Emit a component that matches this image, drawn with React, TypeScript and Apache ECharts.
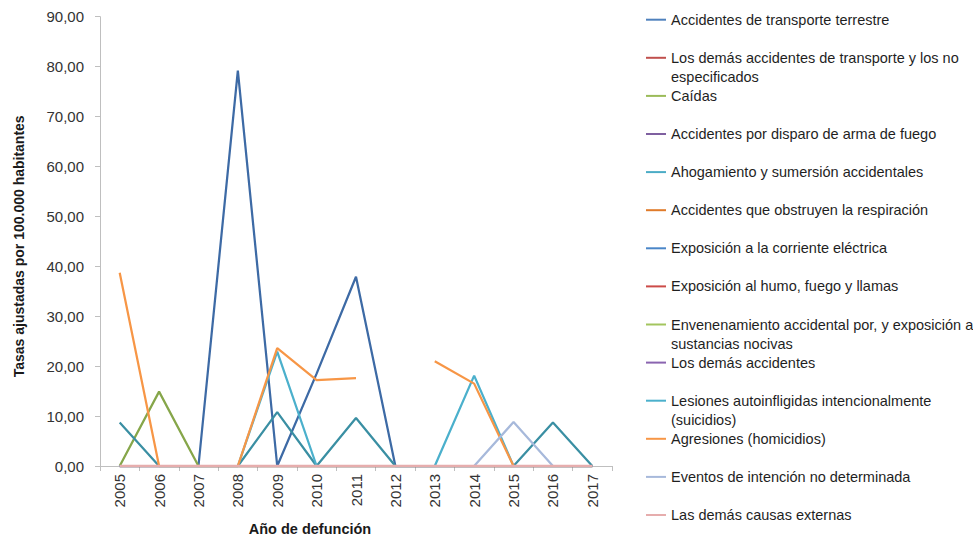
import React, { useEffect, useRef } from "react";
import * as echarts from "echarts";

const years = ["2005", "2006", "2007", "2008", "2009", "2010", "2011", "2012", "2013", "2014", "2015", "2016", "2017"];

const seriesNames = [
  "Accidentes de transporte terrestre",
  "Los demás accidentes de transporte y los no especificados",
  "Caídas",
  "Accidentes por disparo de arma de fuego",
  "Ahogamiento y sumersión accidentales",
  "Accidentes que obstruyen la respiración",
  "Exposición a la corriente eléctrica",
  "Exposición al humo, fuego y llamas",
  "Envenenamiento accidental por, y exposición a sustancias nocivas",
  "Los demás accidentes",
  "Lesiones autoinfligidas intencionalmente (suicidios)",
  "Agresiones (homicidios)",
  "Eventos de intención no determinada",
  "Las demás causas externas",
];

// legend label lines (wrapped as in the reference)
const legendLabels = [
  "Accidentes de transporte terrestre",
  "Los demás accidentes de transporte y los no\nespecificados",
  "Caídas",
  "Accidentes por disparo de arma de fuego",
  "Ahogamiento y sumersión accidentales",
  "Accidentes que obstruyen la respiración",
  "Exposición a la corriente eléctrica",
  "Exposición al humo, fuego y llamas",
  "Envenenamiento accidental por, y exposición a\nsustancias nocivas",
  "Los demás accidentes",
  "Lesiones autoinfligidas intencionalmente\n(suicidios)",
  "Agresiones (homicidios)",
  "Eventos de intención no determinada",
  "Las demás causas externas",
];

const transporteTerrestre = [0, 0, 0, 79.2, 0, 18.5, 37.9, 0, 0, 0, 0, 0, 0];
const demasTransporte = [0, 0, 0, 0, 0, 0, 0, 0, 0, 0, 0, 0, 0];
const caidas = [0, 14.9, 0, 0, 0, 0, 0, 0, 0, 0, 0, 0, 0];
const armaFuego = [0, 0, 0, 0, 0, 0, 0, 0, 0, 0, 0, 0, 0];
const ahogamiento = [8.7, 0, 0, 0, 10.8, 0, 9.6, 0, 0, 0, 0, 8.7, 0];
const obstruyen = [0, 0, 0, 0, 0, 0, 0, 0, 0, 0, 0, 0, 0];
const corriente = [0, 0, 0, 0, 0, 0, 0, 0, 0, 0, 0, 0, 0];
const humo = [0, 0, 0, 0, 0, 0, 0, 0, 0, 0, 0, 0, 0];
const envenenamiento = [0, 0, 0, 0, 0, 0, 0, 0, 0, 0, 0, 0, 0];
const demasAccidentes = [0, 0, 0, 0, 0, 0, 0, 0, 0, 0, 0, 0, 0];
const suicidios = [0, 0, 0, 0, 22.9, 0, 0, 0, 0, 18.1, 0, 0, 0];
const homicidios = [38.7, 0, 0, 0, 23.6, 17.2, 17.6, null, 21.0, 16.5, 0, null, null];
const eventos = [0, 0, 0, 0, 0, 0, 0, 0, 0, 0, 8.8, 0, 0];
const demasCausas = [0, 0, 0, 0, 0, 0, 0, 0, 0, 0, 0, 0, 0];

const seriesValues = [
  transporteTerrestre, demasTransporte, caidas, armaFuego, ahogamiento, obstruyen, corriente,
  humo, envenenamiento, demasAccidentes, suicidios, homicidios, eventos, demasCausas,
];

const lineColors = [
  "#3d6aa5", "#c0504d", "#86a64a", "#7f60a0", "#3a8fa3", "#e07b2a", "#4a86c8",
  "#cc4b48", "#a3c55e", "#8a64b0", "#4bb0cc", "#f79646", "#a7b9db", "#e6adad",
];
const legendColors = [
  "#4f81bd", "#c0504d", "#9bbb59", "#7f60a0", "#4bacc6", "#e07b2a", "#4a86c8",
  "#cc4b48", "#a3c55e", "#8a64b0", "#4bb0cc", "#f79646", "#a7b9db", "#e6adad",
];

const FONT = "'Liberation Sans', Arial, sans-serif";

export default function App() {
  const ref = useRef<HTMLDivElement>(null);
  useEffect(() => {
    if (!ref.current) return;
    const chart = echarts.init(ref.current, undefined, { renderer: "svg" });
    const LINE_H = 19;
    const legends = seriesNames.map((name, i) => {
      const wrapped = legendLabels[i].includes("\n");
      const cy = 19.7 + 38.1 * i;
      // for wrapped labels an empty leading line keeps the first text line level with the swatch
      const label = wrapped ? "\n" + legendLabels[i] : legendLabels[i];
      return {
        left: 646,
        top: wrapped ? cy - 1.5 * LINE_H : cy - LINE_H / 2,
        padding: 0,
        itemWidth: 20,
        itemHeight: LINE_H,
        itemGap: 0,
        selectedMode: false,
        formatter: () => label,
        textStyle: {
          fontFamily: FONT,
          fontSize: 14.5,
          color: "#1f1f1f",
          lineHeight: LINE_H,
        },
        data: [
          {
            name,
            icon: "path://M0,0 L20,0 L20,2 L0,2 Z",
            itemStyle: { color: legendColors[i] },
          },
        ],
      };
    });
    chart.setOption({
      animation: false,
      textStyle: { fontFamily: FONT },
      grid: { left: 100, right: 361, top: 16.7, bottom: 71.3, containLabel: false },
      legend: legends,
      xAxis: {
        type: "category",
        data: years,
        boundaryGap: true,
        name: "Año de defunción",
        nameLocation: "middle",
        nameGap: 55,
        nameTextStyle: {
          fontFamily: FONT,
          fontSize: 14.5,
          fontWeight: "bold",
          color: "#1a1a1a",
          padding: [0, 92, 0, 0],
        },
        axisLine: { show: true, lineStyle: { color: "#bfbfbf", width: 1 } },
        axisTick: { show: true, alignWithLabel: false, interval: 0, length: 5, lineStyle: { color: "#bfbfbf" } },
        axisLabel: {
          interval: 0,
          rotate: 90,
          margin: 8,
          fontFamily: FONT,
          fontSize: 15,
          color: "#333333",
        },
        splitLine: { show: false },
      },
      yAxis: {
        type: "value",
        min: 0,
        max: 90,
        interval: 10,
        name: "Tasas ajustadas por 100.000 habitantes",
        nameLocation: "middle",
        nameGap: 74,
        nameRotate: 90,
        nameTextStyle: {
          fontFamily: FONT,
          fontSize: 14,
          fontWeight: "bold",
          color: "#1a1a1a",
          padding: [0, 10, 0, 0],
        },
        axisLine: { show: true, lineStyle: { color: "#bfbfbf", width: 1 } },
        axisTick: { show: true, length: 5, lineStyle: { color: "#bfbfbf" } },
        axisLabel: {
          margin: 16,
          fontFamily: FONT,
          fontSize: 15,
          color: "#333333",
          formatter: (v: number) => v.toFixed(2).replace(".", ","),
        },
        splitLine: { show: false },
      },
      series: seriesNames.map((name, i) => ({
        name,
        type: "line",
        data: seriesValues[i],
        symbol: "none",
        connectNulls: false,
        color: lineColors[i],
        lineStyle: { width: i === 13 ? 2.6 : 2.25, color: lineColors[i] },
      })),
    });
    return () => chart.dispose();
  }, []);
  return (
    <div
      ref={ref}
      style={{ position: "fixed", left: 0, top: 0, width: 973, height: 541, background: "#ffffff" }}
    />
  );
}
